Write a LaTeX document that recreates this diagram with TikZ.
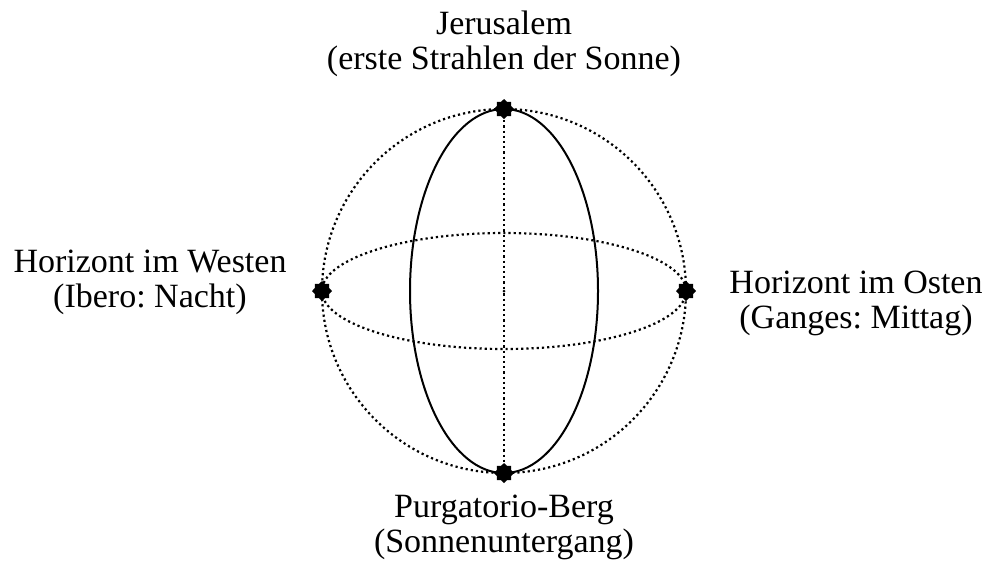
\documentclass[tikz,border=0pt]{standalone}
\usepackage{fontspec}
\setmainfont{Liberation Serif}
\usetikzlibrary{shapes.geometric}
\frenchspacing
\begin{document}
\begin{tikzpicture}[x=0.5pt, y=-0.5pt, thick,
    punkt/.style={star, star points=8, star point ratio=1.3, fill=black, draw=none, inner sep=0pt, minimum size=10pt},
    punktiert/.style={line width=1.1pt, dash pattern=on 1.1pt off 1.5pt},
    beschr/.style={align=center, font=\fontsize{17}{17.5}\selectfont}]
    \def\R{182}
    \def\cx{504}
    \def\cy{291}
    \useasboundingbox (0,0) rectangle (989,564);
    % Kugel
    \draw[punktiert] (\cx,\cy) ellipse [x radius=\R, y radius=\R];
    % Horizont
    \draw[punktiert] (\cx,\cy) ellipse [x radius=\R, y radius=58];
    % Meridian
    \draw[line width=1pt] (\cx,\cy) ellipse [x radius=94, y radius=\R];
    % Punkte
    \node[punkt] (jeru) at (\cx,\cy-\R) {};
    \node[punkt] (purg) at (\cx,\cy+\R) {};
    \node[punkt] (west) at (\cx-\R,\cy) {};
    \node[punkt] (ost)  at (\cx+\R,\cy) {};
    \node[circle, fill=black, inner sep=0pt, minimum size=1.5pt] (mitte) at (\cx,\cy) {};
    \draw[punktiert] (jeru) -- (mitte) -- (purg);
    % Beschriftung
    \node[beschr] (jerutext) at (504,44) {Jerusalem\\(erste Strahlen der Sonne)};
    \node[beschr] (purgtext) at (504,527) {Purgatorio-Berg\\(Sonnenuntergang)};
    \node[beschr] (westtext) at (150,282) {Horizont im Westen\\(Ibero: Nacht)};
    \node[beschr] (osttext)  at (856,303) {Horizont im Osten\\(Ganges: Mittag)};
\end{tikzpicture}
\end{document}
